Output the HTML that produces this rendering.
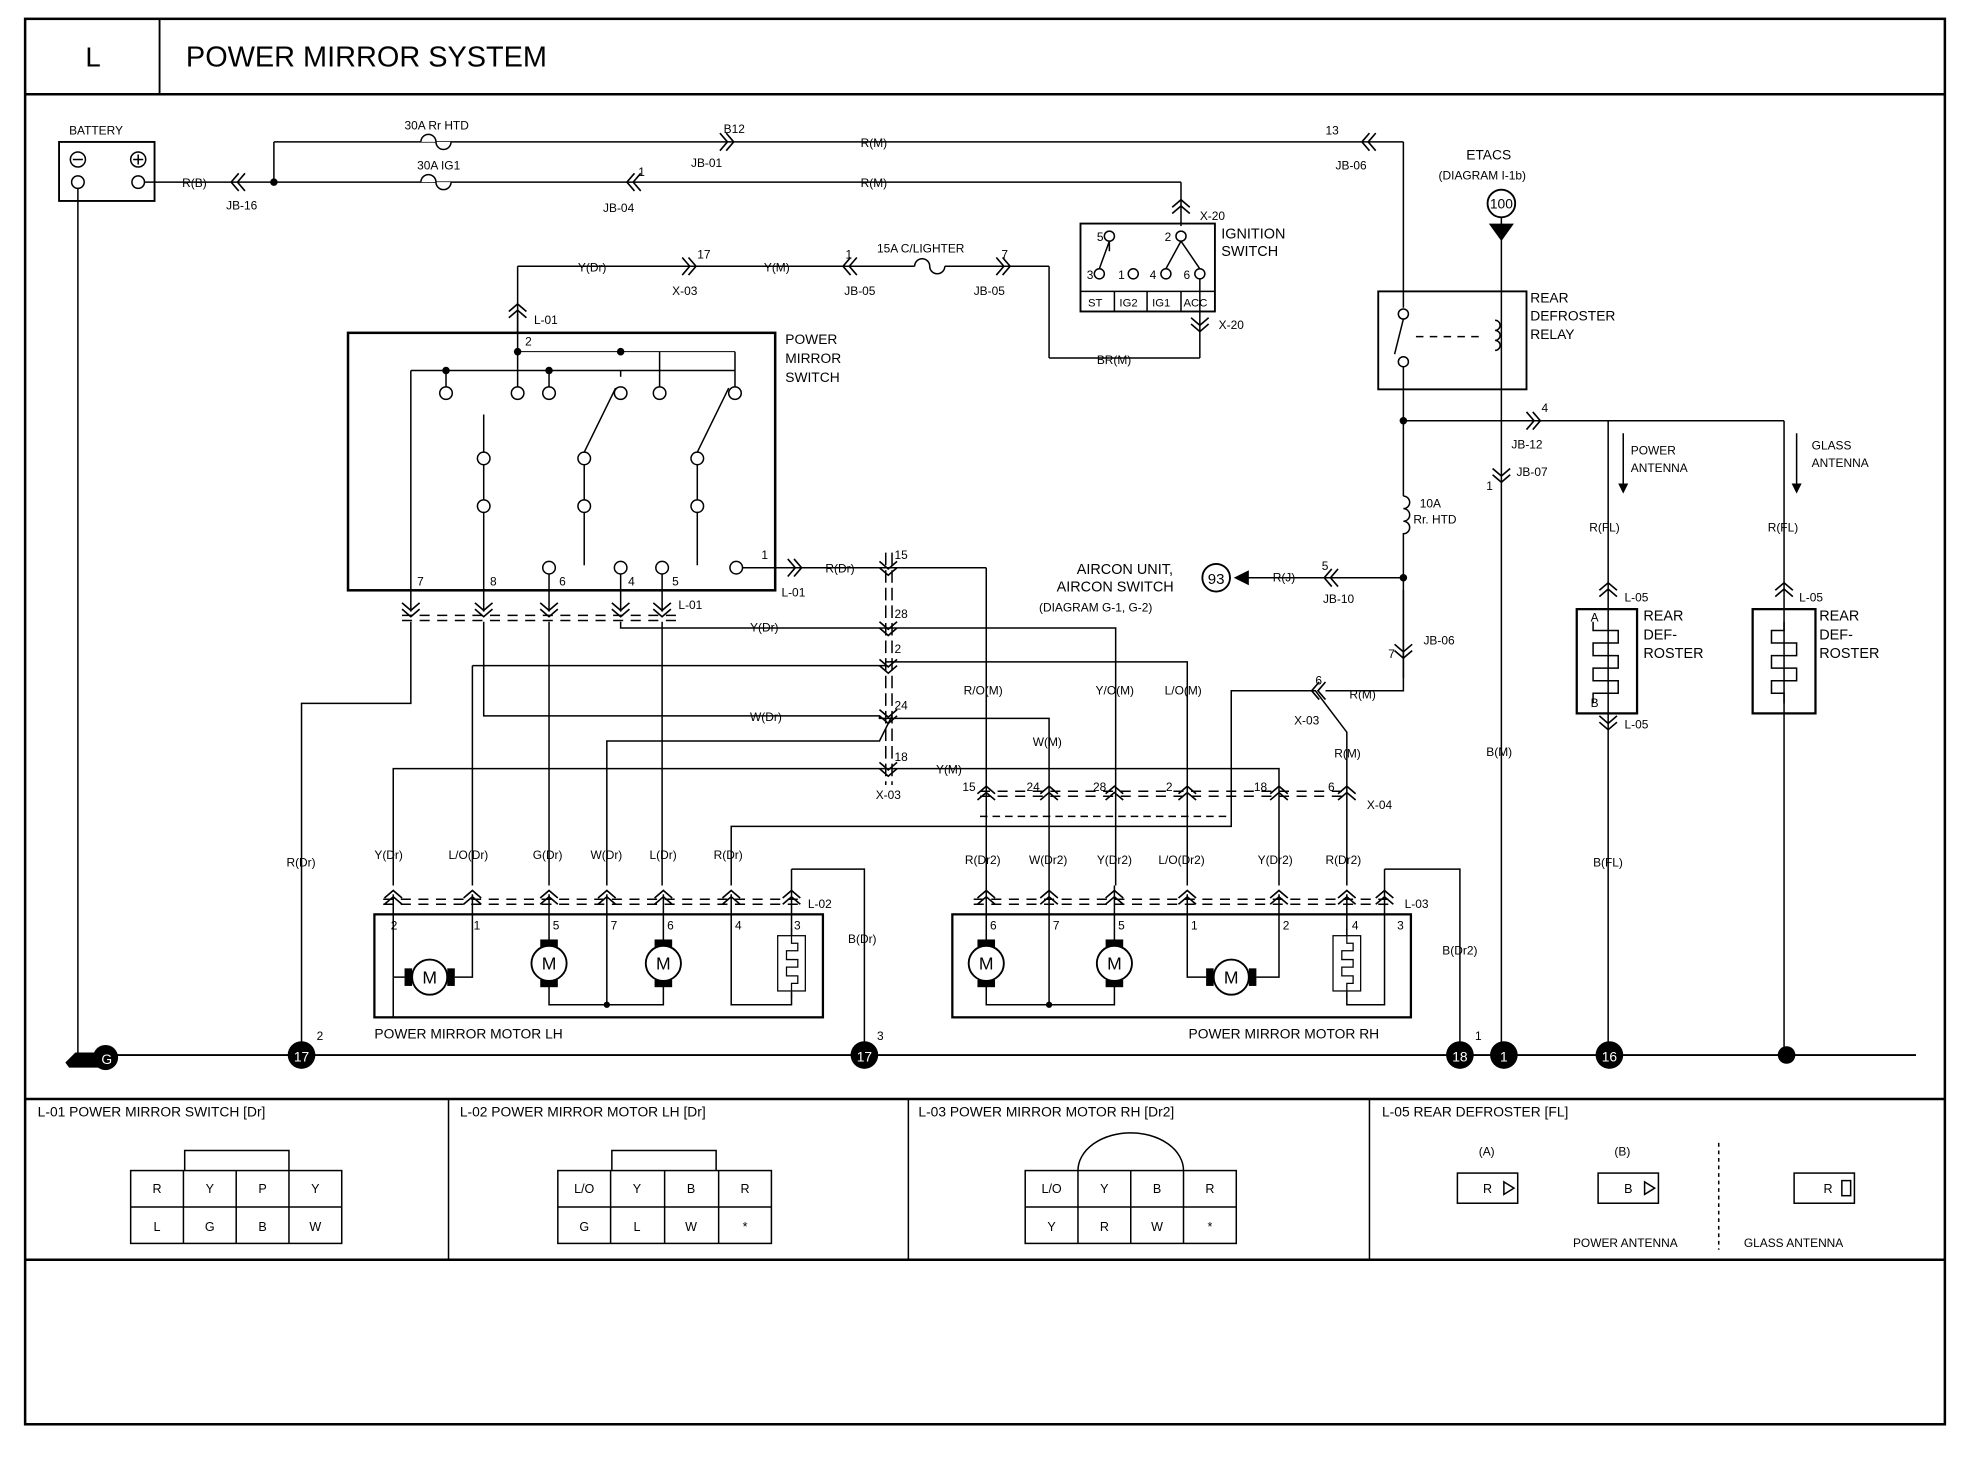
<!DOCTYPE html>
<html><head><meta charset="utf-8"><style>
html,body{margin:0;padding:0;background:#fff}
svg{display:block}
text{font-family:"Liberation Sans",sans-serif;fill:#000}
.s{font-size:9.5px}
.m{font-size:11.5px}
</style></head><body>
<svg width="1970" height="1472" viewBox="0 0 1568 1172" preserveAspectRatio="none" xmlns="http://www.w3.org/2000/svg">
<defs>
<g id="cd"><path d="M-7,-5 L0,1 L7,-5 M-7,0 L0,6 L7,0" fill="none" stroke="#000" stroke-width="1.3"/></g>
<g id="cu"><path d="M-7,5 L0,-1 L7,5 M-7,0 L0,-6 L7,0" fill="none" stroke="#000" stroke-width="1.3"/></g>
<g id="cl"><path d="M5,-7 L-1,0 L5,7 M0,-7 L-6,0 L0,7" fill="none" stroke="#000" stroke-width="1.3"/></g>
<g id="cr"><path d="M-5,-7 L1,0 L-5,7 M0,-7 L6,0 L0,7" fill="none" stroke="#000" stroke-width="1.3"/></g>
<g id="mv"><rect x="-7" y="-19" width="14" height="6" fill="#000"/><rect x="-7" y="13" width="14" height="6" fill="#000"/><circle r="14" fill="#fff" stroke="#000" stroke-width="1.5"/><text x="0" y="5" text-anchor="middle" font-size="14">M</text></g>
<g id="mh"><rect x="-20" y="-7" width="6" height="14" fill="#000"/><rect x="14" y="-7" width="6" height="14" fill="#000"/><circle r="14" fill="#fff" stroke="#000" stroke-width="1.5"/><text x="0" y="5" text-anchor="middle" font-size="14">M</text></g>
<g id="ht"><rect x="-11" y="-22" width="22" height="44" fill="#fff" stroke="#000"/><path d="M0,-28 V-16 H5 V-10 H-4 V-3 H5 V3 H-4 V10 H5 V16 H0 V28" fill="none" stroke="#000"/></g>
</defs>
<g fill="none" stroke="#000" stroke-width="1.2">
<rect x="20" y="15" width="1528" height="1119" stroke-width="2"/>
<line x1="20" y1="75" x2="1548" y2="75" stroke-width="2"/>
<line x1="127" y1="15" x2="127" y2="75" stroke-width="1.5"/>
<line x1="20" y1="875" x2="1548" y2="875" stroke-width="2"/>
<line x1="20" y1="1003" x2="1548" y2="1003" stroke-width="2"/>
<line x1="357" y1="875" x2="357" y2="1003"/>
<line x1="723" y1="875" x2="723" y2="1003"/>
<line x1="1090" y1="875" x2="1090" y2="1003"/>
<line x1="1368" y1="910" x2="1368" y2="995" stroke-dasharray="3,3"/>
<line x1="62" y1="840" x2="1525" y2="840" stroke-width="1.5"/>
<rect x="47" y="113" width="76" height="47" stroke-width="1.5"/>
<circle cx="62" cy="127" r="6"/><line x1="58" y1="127" x2="66" y2="127"/>
<circle cx="110" cy="127" r="6"/><line x1="106" y1="127" x2="114" y2="127"/><line x1="110" y1="123" x2="110" y2="131"/>
<circle cx="62" cy="145" r="5"/><circle cx="110" cy="145" r="5"/>
<line x1="62" y1="150" x2="62" y2="840"/>
<line x1="115" y1="145" x2="218" y2="145"/>
<line x1="218" y1="145" x2="218" y2="113"/>
<line x1="218" y1="113" x2="1117" y2="113"/>
<line x1="1117" y1="113" x2="1117" y2="245"/>
<line x1="218" y1="145" x2="940" y2="145"/>
<line x1="940" y1="145" x2="940" y2="180"/>
<path d="M335,113 a6,6 0 0 1 12,0 a6,6 0 0 0 12,0" fill="#fff"/>
<path d="M335,145 a6,6 0 0 1 12,0 a6,6 0 0 0 12,0" fill="#fff"/>
<rect x="860" y="178" width="107" height="70" stroke-width="1.5"/>
<line x1="860" y1="232" x2="967" y2="232"/>
<line x1="887" y1="232" x2="887" y2="248"/><line x1="913" y1="232" x2="913" y2="248"/><line x1="940" y1="232" x2="940" y2="248"/>
<circle cx="883" cy="188" r="4"/><circle cx="940" cy="188" r="4"/>
<circle cx="875" cy="218" r="4"/><circle cx="902" cy="218" r="4"/><circle cx="928" cy="218" r="4"/><circle cx="955" cy="218" r="4"/>
<path d="M883,192 L875,214 M883,192 V200 M940,192 L928,214 M940,192 L955,214"/>
<line x1="955" y1="222" x2="955" y2="285"/>
<line x1="412" y1="265" x2="412" y2="212"/>
<line x1="412" y1="212" x2="728" y2="212"/>
<path d="M728,212 a6,6 0 0 1 12,0 a6,6 0 0 0 12,0" fill="#fff"/>
<line x1="752" y1="212" x2="835" y2="212"/>
<line x1="835" y1="212" x2="835" y2="285"/>
<line x1="835" y1="285" x2="955" y2="285"/>
<rect x="277" y="265" width="340" height="205" stroke-width="2"/>
<line x1="327" y1="295" x2="585" y2="295"/>
<line x1="412" y1="280" x2="525" y2="280" stroke-width="0.8"/>
<line x1="525" y1="280" x2="585" y2="280" stroke-width="0.8"/>
<line x1="585" y1="280" x2="585" y2="308"/>
<line x1="327" y1="295" x2="327" y2="487"/>
<line x1="412" y1="250" x2="412" y2="308"/>
<line x1="355" y1="295" x2="355" y2="308"/><line x1="437" y1="295" x2="437" y2="308"/><line x1="525" y1="280" x2="525" y2="308"/><line x1="494" y1="295" x2="494" y2="300"/>
<circle cx="355" cy="313" r="5"/><circle cx="412" cy="313" r="5"/><circle cx="437" cy="313" r="5"/><circle cx="494" cy="313" r="5"/><circle cx="525" cy="313" r="5"/><circle cx="585" cy="313" r="5"/>
<line x1="385" y1="330" x2="385" y2="487"/>
<circle cx="385" cy="365" r="5" fill="#fff"/><circle cx="385" cy="403" r="5" fill="#fff"/>
<path d="M465,360 L490,309 M465,365 V450 M555,360 L580,309 M555,365 V450"/>
<circle cx="465" cy="365" r="5" fill="#fff"/><circle cx="465" cy="403" r="5" fill="#fff"/>
<circle cx="555" cy="365" r="5" fill="#fff"/><circle cx="555" cy="403" r="5" fill="#fff"/>
<circle cx="437" cy="452" r="5"/><circle cx="494" cy="452" r="5"/><circle cx="527" cy="452" r="5"/><circle cx="586" cy="452" r="5"/>
<line x1="437" y1="457" x2="437" y2="487"/><line x1="494" y1="457" x2="494" y2="487"/><line x1="527" y1="457" x2="527" y2="487"/>
<line x1="591" y1="452" x2="700" y2="452"/>
<path d="M320,490 H540 M320,494 H540" stroke-dasharray="8,6"/>
<line x1="700" y1="452" x2="785" y2="452"/>
<line x1="785" y1="452" x2="785" y2="705"/>
<path d="M327,495 V560 H240 V840"/>
<path d="M385,495 V570 H700 V572 H835 V705"/>
<path d="M437,495 V705"/>
<path d="M494,495 V500 H888 V705"/>
<path d="M527,495 V705"/>
<path d="M376,530 H705 M705,527 H945 V705"/>
<path d="M483,705 V590 H700 L710,570"/>
<path d="M376,705 V530"/>
<path d="M313,705 V612 H1018 V705"/>
<path d="M582,705 V658 H980 V550 H1047 L1072,583 V705"/>
<path d="M1055,550 H1117 V470"/>
<path d="M705,440 V625 M710,440 V625" stroke-dasharray="10,4"/>
<path d="M780,630 H1070 M780,634 H1070" stroke-dasharray="8,6"/>
<path d="M780,650 H980" stroke-dasharray="6,4"/>
<path d="M305,716 H640 M305,720 H640" stroke-dasharray="8,6"/>
<path d="M313,712 V810 M313,770 V778 H322 M376,712 V778 H362"/>
<path d="M630,712 V745 M630,790 V800 H582 V712 M630,692 H688 V840 M630,692 V712"/>
<path d="M437,712 V800 H528 V712"/>
<path d="M483,712 V800"/>
<rect x="298" y="728" width="357" height="82" stroke-width="1.8"/>
<rect x="758" y="728" width="365" height="82" stroke-width="1.8"/>
<path d="M775,716 H1110 M775,720 H1110" stroke-dasharray="8,6"/>
<path d="M785,705 V800 H887 V705 M835,705 V800"/>
<path d="M945,712 V778 H960 M1018,712 V778 H1000"/>
<path d="M1072,712 V745 M1072,790 V800 H1102 V712 M1102,692 V712 M1102,692 H1162 V840"/>
<rect x="1097" y="232" width="118" height="78" stroke-width="1.5"/>
<circle cx="1117" cy="250" r="4"/><circle cx="1117" cy="288" r="4"/>
<path d="M1117,292 V395 M1117,254 L1110,282" />
<path d="M1127,268 H1180" stroke-dasharray="6,5"/>
<path d="M1195,162 V840"/>
<path d="M1190,255 a4,4 0 0 1 0,8 a4,4 0 0 1 0,8 a4,4 0 0 1 0,8"/>
<path d="M1117,335 H1420 M1280,335 V840 M1420,335 V840"/>
<path d="M1117,395 a5,5 0 0 1 0,10 a5,5 0 0 1 0,10 a5,5 0 0 1 0,10 V540"/>
<path d="M990,460 H1117"/>
<path d="M1292,345 V385 M1430,345 V385"/>
<rect x="1255" y="485" width="48" height="83" stroke-width="1.8"/>
<rect x="1395" y="485" width="50" height="83" stroke-width="1.8"/>
<path d="M1268,495 V502 H1288 V512 H1268 V522 H1288 V532 H1268 V542 H1288 V552 H1268 V560" stroke-width="1.2"/>
<path d="M1420,495 V502 H1410 V512 H1430 V522 H1410 V532 H1430 V542 H1410 V552 H1420 V560"/>
</g>
<g fill="#000">
<circle cx="218" cy="145" r="3"/><circle cx="412" cy="280" r="3"/><circle cx="355" cy="295" r="3"/><circle cx="437" cy="295" r="3"/><circle cx="494" cy="280" r="3"/>
<circle cx="483" cy="800" r="2.5"/><circle cx="835" cy="800" r="2.5"/>
<circle cx="1117" cy="335" r="3"/><circle cx="1117" cy="460" r="3"/>
<circle cx="1422" cy="840" r="7"/>
<path d="M1185,178 L1205,178 L1195,192 Z"/>
<path d="M982,460 L994,454 L994,466 Z"/>
<path d="M1288,385 l4,8 l4,-8 Z M1426,385 l4,8 l4,-8 Z"/>
<circle cx="240" cy="840" r="11"/><circle cx="688" cy="840" r="11"/><circle cx="1162" cy="840" r="11"/><circle cx="1197" cy="840" r="11"/><circle cx="1281" cy="840" r="11"/>
<path d="M52,846 L60,838 H75 L80,850 H55 Z"/>
<circle cx="84" cy="842" r="10"/>
</g>
<circle cx="1195" cy="162" r="11" fill="#fff" stroke="#000" stroke-width="1.5"/>
<circle cx="968" cy="460" r="11" fill="#fff" stroke="#000" stroke-width="1.5"/>
<g font-size="11" text-anchor="middle">
<text x="240" y="845" style="fill:#fff">17</text><text x="688" y="845" style="fill:#fff">17</text><text x="1162" y="845" style="fill:#fff">18</text><text x="1197" y="845" style="fill:#fff">1</text><text x="1281" y="845" style="fill:#fff">16</text><text x="85" y="847" style="fill:#fff">G</text>
</g>
<text x="1195" y="166" font-size="11" text-anchor="middle">100</text>
<text x="968" y="465" font-size="12" text-anchor="middle">93</text>
<use href="#mh" x="342" y="778"/><use href="#mv" x="437" y="767"/><use href="#mv" x="528" y="767"/><use href="#ht" x="630" y="767"/>
<use href="#mv" x="785" y="767"/><use href="#mv" x="887" y="767"/><use href="#mh" x="980" y="778"/><use href="#ht" x="1072" y="767"/>
<use href="#cl" x="190" y="145"/><use href="#cr" x="578" y="113"/><use href="#cl" x="505" y="145"/><use href="#cl" x="1090" y="113"/>
<use href="#cu" x="940" y="165"/><use href="#cd" x="955" y="258"/>
<use href="#cr" x="548" y="212"/><use href="#cl" x="677" y="212"/><use href="#cr" x="798" y="212"/>
<use href="#cu" x="412" y="248"/>
<use href="#cr" x="632" y="452"/><use href="#cl" x="1060" y="460"/><use href="#cr" x="1220" y="335"/>
<use href="#cd" x="1117" y="518"/><use href="#cd" x="1195" y="378"/>
<use href="#cu" x="1280" y="470"/><use href="#cd" x="1280" y="575"/><use href="#cu" x="1420" y="470"/>
<g><use href="#cd" x="327" y="485"/><use href="#cd" x="385" y="485"/><use href="#cd" x="437" y="485"/><use href="#cd" x="494" y="485"/><use href="#cd" x="527" y="485"/></g>
<g><use href="#cu" x="313" y="715"/><use href="#cu" x="376" y="715"/><use href="#cu" x="437" y="715"/><use href="#cu" x="483" y="715"/><use href="#cu" x="528" y="715"/><use href="#cu" x="582" y="715"/><use href="#cu" x="630" y="715"/></g>
<g><use href="#cu" x="785" y="715"/><use href="#cu" x="835" y="715"/><use href="#cu" x="887" y="715"/><use href="#cu" x="945" y="715"/><use href="#cu" x="1018" y="715"/><use href="#cu" x="1072" y="715"/><use href="#cu" x="1102" y="715"/></g>
<g><use href="#cu" x="785" y="632"/><use href="#cu" x="835" y="632"/><use href="#cu" x="887" y="632"/><use href="#cu" x="945" y="632"/><use href="#cu" x="1018" y="632"/><use href="#cu" x="1072" y="632"/></g>
<g><use href="#cd" x="707" y="452"/><use href="#cd" x="707" y="500"/><use href="#cd" x="707" y="530"/><use href="#cd" x="707" y="570"/><use href="#cd" x="707" y="612"/><use href="#cl" x="1050" y="550"/></g>
<text x="68" y="53" font-size="22">L</text>
<text x="148" y="53" font-size="23">POWER MIRROR SYSTEM</text>
<g class="s">
<text x="55" y="107">BATTERY</text><text x="145" y="149">R(B)</text><text x="180" y="167">JB-16</text>
<text x="322" y="103">30A Rr HTD</text><text x="332" y="135">30A IG1</text>
<text x="576" y="106">B12</text><text x="550" y="133">JB-01</text><text x="685" y="117">R(M)</text>
<text x="508" y="140">1</text><text x="480" y="169">JB-04</text><text x="685" y="149">R(M)</text>
<text x="1055" y="107">13</text><text x="1063" y="135">JB-06</text>
<text x="1167" y="127" font-size="11">ETACS</text><text x="1145" y="143">(DIAGRAM I-1b)</text>
<text x="955" y="175">X-20</text><text x="972" y="190" font-size="11.5">IGNITION</text><text x="972" y="204" font-size="11.5">SWITCH</text>
<text x="873" y="192">5</text><text x="927" y="192">2</text><text x="865" y="222">3</text><text x="890" y="222">1</text><text x="915" y="222">4</text><text x="942" y="222">6</text>
<text x="866" y="244" font-size="9">ST</text><text x="891" y="244" font-size="9">IG2</text><text x="917" y="244" font-size="9">IG1</text><text x="942" y="244" font-size="9">ACC</text>
<text x="970" y="262">X-20</text><text x="873" y="290">BR(M)</text>
<text x="460" y="216">Y(Dr)</text><text x="555" y="206">17</text><text x="535" y="235">X-03</text><text x="608" y="216">Y(M)</text>
<text x="673" y="206">1</text><text x="672" y="235">JB-05</text><text x="698" y="201">15A C/LIGHTER</text><text x="797" y="206">7</text><text x="775" y="235">JB-05</text>
<text x="425" y="258">L-01</text><text x="418" y="275">2</text>
<text x="625" y="274" font-size="11">POWER</text><text x="625" y="289" font-size="11">MIRROR</text><text x="625" y="304" font-size="11">SWITCH</text>
<text x="332" y="466">7</text><text x="390" y="466">8</text><text x="445" y="466">6</text><text x="500" y="466">4</text><text x="535" y="466">5</text><text x="606" y="445">1</text>
<text x="622" y="475">L-01</text><text x="657" y="456">R(Dr)</text><text x="540" y="485">L-01</text>
<text x="712" y="445">15</text><text x="712" y="492">28</text><text x="712" y="520">2</text><text x="712" y="565">24</text><text x="712" y="606">18</text><text x="697" y="636">X-03</text>
<text x="597" y="503">Y(Dr)</text><text x="597" y="574">W(Dr)</text><text x="745" y="616">Y(M)</text>
<text x="767" y="553">R/O(M)</text><text x="822" y="594">W(M)</text><text x="872" y="553">Y/O(M)</text><text x="927" y="553">L/O(M)</text>
<text x="857" y="457" font-size="11.5">AIRCON UNIT,</text><text x="841" y="471" font-size="11.5">AIRCON SWITCH</text><text x="827" y="487">(DIAGRAM G-1, G-2)</text>
<text x="1013" y="463">R(J)</text><text x="1052" y="454">5</text><text x="1053" y="480">JB-10</text>
<text x="1047" y="545">6</text><text x="1030" y="577">X-03</text><text x="1074" y="556">R(M)</text><text x="1062" y="603">R(M)</text>
<text x="1105" y="524">7</text><text x="1133" y="513">JB-06</text>
<text x="1130" y="404">10A</text><text x="1125" y="417">Rr. HTD</text>
<text x="1218" y="241" font-size="11">REAR</text><text x="1218" y="255" font-size="11">DEFROSTER</text><text x="1218" y="270" font-size="11">RELAY</text>
<text x="1227" y="328">4</text><text x="1203" y="357">JB-12</text><text x="1207" y="379">JB-07</text><text x="1183" y="390">1</text>
<text x="1298" y="362">POWER</text><text x="1298" y="376">ANTENNA</text><text x="1442" y="358">GLASS</text><text x="1442" y="372">ANTENNA</text>
<text x="1265" y="423">R(FL)</text><text x="1407" y="423">R(FL)</text>
<text x="1293" y="479">L-05</text><text x="1432" y="479">L-05</text><text x="1293" y="580">L-05</text>
<text x="1266" y="495">A</text><text x="1266" y="563">B</text>
<text x="1308" y="494" font-size="11.5">REAR</text><text x="1308" y="509" font-size="11.5">DEF-</text><text x="1308" y="524" font-size="11.5">ROSTER</text>
<text x="1448" y="494" font-size="11.5">REAR</text><text x="1448" y="509" font-size="11.5">DEF-</text><text x="1448" y="524" font-size="11.5">ROSTER</text>
<text x="1183" y="602">B(M)</text><text x="1268" y="690">B(FL)</text>
<text x="228" y="690">R(Dr)</text><text x="298" y="684">Y(Dr)</text><text x="357" y="684">L/O(Dr)</text><text x="424" y="684">G(Dr)</text><text x="470" y="684">W(Dr)</text><text x="517" y="684">L(Dr)</text><text x="568" y="684">R(Dr)</text>
<text x="675" y="751">B(Dr)</text><text x="643" y="723">L-02</text>
<text x="311" y="740">2</text><text x="377" y="740">1</text><text x="440" y="740">5</text><text x="486" y="740">7</text><text x="531" y="740">6</text><text x="585" y="740">4</text><text x="632" y="740">3</text>
<text x="298" y="827" font-size="11">POWER MIRROR MOTOR LH</text>
<text x="768" y="688">R(Dr2)</text><text x="819" y="688">W(Dr2)</text><text x="873" y="688">Y(Dr2)</text><text x="922" y="688">L/O(Dr2)</text><text x="1001" y="688">Y(Dr2)</text><text x="1055" y="688">R(Dr2)</text>
<text x="766" y="630">15</text><text x="817" y="630">24</text><text x="870" y="630">28</text><text x="928" y="630">2</text><text x="998" y="630">18</text><text x="1057" y="630">6</text><text x="1088" y="644">X-04</text>
<text x="1118" y="723">L-03</text><text x="1148" y="760">B(Dr2)</text>
<text x="788" y="740">6</text><text x="838" y="740">7</text><text x="890" y="740">5</text><text x="948" y="740">1</text><text x="1021" y="740">2</text><text x="1076" y="740">4</text><text x="1112" y="740">3</text>
<text x="946" y="827" font-size="11">POWER MIRROR MOTOR RH</text>
<text x="252" y="828">2</text><text x="698" y="828">3</text><text x="1174" y="828">1</text>
<text x="30" y="889" font-size="11">L-01 POWER MIRROR SWITCH [Dr]</text>
<text x="366" y="889" font-size="11">L-02 POWER MIRROR MOTOR LH [Dr]</text>
<text x="731" y="889" font-size="11">L-03 POWER MIRROR MOTOR RH [Dr2]</text>
<text x="1100" y="889" font-size="11">L-05 REAR DEFROSTER [FL]</text>
<text x="1177" y="920">(A)</text><text x="1285" y="920">(B)</text>
<text x="1252" y="993">POWER ANTENNA</text><text x="1388" y="993">GLASS ANTENNA</text>
</g>
<g fill="none" stroke="#000" stroke-width="1.2">
<rect x="104" y="932" width="168" height="58"/><line x1="104" y1="961" x2="272" y2="961"/><line x1="146" y1="932" x2="146" y2="990"/><line x1="188" y1="932" x2="188" y2="990"/><line x1="230" y1="932" x2="230" y2="990"/><path d="M147,932 V916 H230 V932"/>
<rect x="444" y="932" width="170" height="58"/><line x1="444" y1="961" x2="614" y2="961"/><line x1="486" y1="932" x2="486" y2="990"/><line x1="529" y1="932" x2="529" y2="990"/><line x1="572" y1="932" x2="572" y2="990"/><path d="M487,932 V916 H570 V932"/>
<rect x="816" y="932" width="168" height="58"/><line x1="816" y1="961" x2="984" y2="961"/><line x1="858" y1="932" x2="858" y2="990"/><line x1="900" y1="932" x2="900" y2="990"/><line x1="942" y1="932" x2="942" y2="990"/><path d="M858,932 A42,30 0 0 1 942,932"/>
<rect x="1160" y="934" width="48" height="24"/><rect x="1272" y="934" width="48" height="24"/><rect x="1428" y="934" width="48" height="24"/>
<path d="M1197,941 L1205,946 L1197,951 Z M1309,941 L1317,946 L1309,951 Z"/><rect x="1466" y="940" width="7" height="12"/>
</g>
<g font-size="10" text-anchor="middle">
<text x="125" y="950">R</text><text x="167" y="950">Y</text><text x="209" y="950">P</text><text x="251" y="950">Y</text>
<text x="125" y="980">L</text><text x="167" y="980">G</text><text x="209" y="980">B</text><text x="251" y="980">W</text>
<text x="465" y="950">L/O</text><text x="507" y="950">Y</text><text x="550" y="950">B</text><text x="593" y="950">R</text>
<text x="465" y="980">G</text><text x="507" y="980">L</text><text x="550" y="980">W</text><text x="593" y="980">*</text>
<text x="837" y="950">L/O</text><text x="879" y="950">Y</text><text x="921" y="950">B</text><text x="963" y="950">R</text>
<text x="837" y="980">Y</text><text x="879" y="980">R</text><text x="921" y="980">W</text><text x="963" y="980">*</text>
<text x="1184" y="950">R</text><text x="1296" y="950">B</text><text x="1455" y="950">R</text>
</g>
</svg>
</body></html>
